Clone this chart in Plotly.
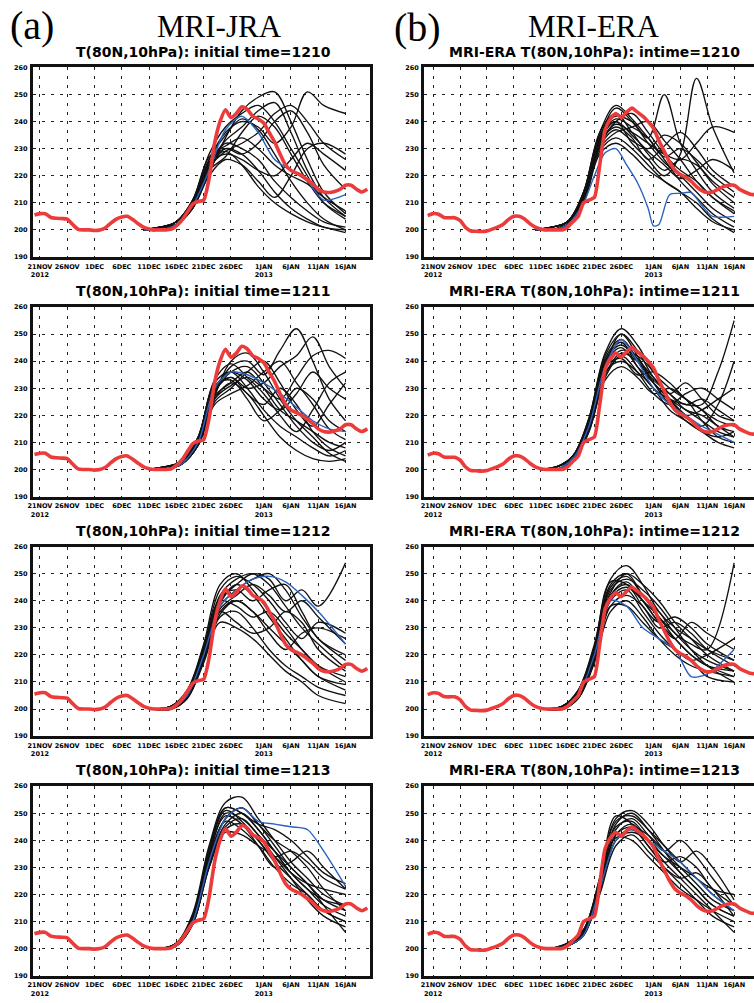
import plotly.graph_objects as go
import pandas as pd

# ---------------- data ----------------
y_ticks = [190, 200, 210, 220, 230, 240, 250, 260]
x_tick_dates = ["2012-11-21", "2012-11-26", "2012-12-01", "2012-12-06", "2012-12-11", "2012-12-16",
                "2012-12-21", "2012-12-26", "2013-01-01", "2013-01-06", "2013-01-11", "2013-01-16"]
x_tick_labels = ["21NOV<br>2012", "26NOV", "1DEC", "6DEC", "11DEC", "16DEC",
                 "21DEC", "26DEC", "1JAN<br>2013", "6JAN", "11JAN", "16JAN"]

reanalysis_dates = pd.date_range("2012-11-20", "2013-01-20", freq="D")
jra_red = [205.5, 206, 206, 204.6, 204.3, 204.2, 204, 202, 200.2, 200, 200,
           199.8, 200, 200.8, 202.5, 204, 204.8, 205, 203.8, 202.3, 201, 200.3, 200, 200, 200, 200.2,
           201.5, 203.5, 206.5, 209.5, 210.5, 211, 219, 232, 240, 244.4, 241.5, 243, 245.5, 244.5, 242, 241,
           239.5, 236, 232.5, 228, 224, 222, 221, 220, 218.5, 217, 215, 214, 213.8, 214.2, 215, 216.5,
           216.5, 215, 214, 215]
era_red = [205.3, 206, 205.8, 204.6, 204.5, 204.5, 203.5, 201, 199.6, 199.5, 199.4,
           199.6, 200.3, 201, 202, 203.8, 205, 205, 204, 202.3, 201, 200.3, 200, 200, 200, 200,
           201, 203, 205, 210, 211, 212, 224, 237, 241, 243, 241.5, 243.5, 245, 243.5, 242, 240,
           237.5, 233, 229, 225, 222, 220.5, 219.5, 218, 216, 214.5, 213.8, 214, 215, 216, 216.5, 216.5,
           215, 214, 213.2, 213]

days_1210 = ["2012-12-10", "2012-12-13", "2012-12-16", "2012-12-19", "2012-12-22", "2012-12-25", "2012-12-28",
             "2012-12-31", "2013-01-03", "2013-01-06", "2013-01-09", "2013-01-12", "2013-01-16"]
days_1211 = ["2012-12-11", "2012-12-14", "2012-12-17", "2012-12-20", "2012-12-23", "2012-12-26", "2012-12-29",
             "2013-01-01", "2013-01-04", "2013-01-07", "2013-01-10", "2013-01-13", "2013-01-16"]
days_1212 = ["2012-12-12", "2012-12-15", "2012-12-18", "2012-12-21", "2012-12-24", "2012-12-27", "2012-12-30",
             "2013-01-02", "2013-01-05", "2013-01-08", "2013-01-11", "2013-01-16"]
days_1213 = ["2012-12-13", "2012-12-16", "2012-12-19", "2012-12-22", "2012-12-25", "2012-12-28", "2012-12-31",
             "2013-01-03", "2013-01-06", "2013-01-09", "2013-01-12", "2013-01-16"]

jra_1210 = [
    [200, 200, 202, 208, 222, 230, 228, 222, 214, 208, 204, 201, 200],
    [200, 201, 203, 210, 225, 229, 224, 216, 210, 206, 203, 201, 199],
    [200, 200, 202, 209, 223, 232, 230, 226, 218, 212, 207, 203, 201],
    [200, 201, 203, 211, 228, 238, 243, 246, 240, 230, 220, 210, 204],
    [200, 200, 202, 208, 221, 234, 244, 249, 251, 240, 226, 214, 206],
    [200, 201, 203, 210, 226, 236, 240, 238, 232, 238, 251, 246, 243],
    [200, 200, 202, 209, 224, 233, 238, 244, 247, 236, 222, 212, 205],
    [200, 201, 203, 211, 227, 231, 234, 230, 224, 220, 217, 212, 207],
    [200, 200, 202, 210, 224, 228, 226, 222, 220, 226, 232, 228, 222],
    [200, 201, 202, 209, 222, 227, 236, 242, 238, 228, 218, 210, 205],
    [200, 200, 203, 210, 225, 230, 228, 232, 240, 244, 236, 224, 215],
    [200, 201, 202, 208, 220, 226, 224, 218, 212, 220, 230, 232, 228],
    [200, 200, 203, 211, 226, 235, 241, 237, 228, 218, 210, 204, 200],
    [200, 201, 202, 209, 223, 229, 232, 236, 243, 246, 240, 232, 226],
]
jra_1210_blue = [200, 200, 202, 209, 222, 237, 242, 236, 226, 222, 218, 211, 213]

era_1210 = [
    [200, 200, 203, 213, 234, 245, 240, 232, 225, 220, 214, 208, 203],
    [200, 200, 202, 211, 231, 240, 243, 236, 228, 222, 218, 212, 206],
    [200, 201, 203, 214, 236, 243, 236, 228, 222, 226, 224, 218, 212],
    [200, 200, 202, 212, 232, 238, 234, 226, 231, 236, 230, 222, 216],
    [200, 201, 203, 213, 233, 241, 238, 234, 226, 218, 212, 206, 201],
    [200, 200, 202, 210, 229, 234, 230, 224, 218, 214, 210, 204, 199],
    [200, 201, 203, 214, 235, 242, 240, 234, 250, 232, 222, 214, 208],
    [200, 200, 202, 211, 232, 239, 236, 232, 228, 226, 232, 238, 236],
    [200, 201, 203, 213, 234, 240, 232, 226, 220, 228, 256, 238, 221],
    [200, 200, 202, 212, 230, 236, 238, 240, 233, 226, 218, 212, 207],
    [200, 201, 203, 212, 233, 240, 235, 229, 224, 219, 222, 226, 222],
    [200, 200, 202, 210, 228, 232, 228, 222, 218, 214, 208, 203, 200],
    [200, 201, 203, 214, 236, 246, 241, 234, 227, 230, 226, 220, 214],
    [200, 200, 202, 212, 231, 237, 233, 230, 235, 232, 225, 217, 210],
]
era_1210_blue_days = ["2012-12-10", "2012-12-13", "2012-12-16", "2012-12-19", "2012-12-21", "2012-12-23",
                      "2012-12-25", "2012-12-27", "2012-12-29", "2012-12-31", "2013-01-01", "2013-01-02",
                      "2013-01-04", "2013-01-06", "2013-01-08", "2013-01-10", "2013-01-12", "2013-01-16"]
era_1210_blue = [200, 200, 202, 210, 220, 228.5, 230, 224, 217.5, 208, 201.5, 202, 213, 213.5, 213.8, 209, 205, 205]

jra_1211 = [
    [200, 200, 202, 209, 226, 232, 228, 220, 212, 207, 204, 203, 204],
    [200, 201, 203, 211, 230, 236, 233, 226, 222, 228, 236, 230, 226],
    [200, 200, 202, 210, 228, 238, 240, 235, 244, 252, 240, 226, 218],
    [200, 201, 203, 212, 232, 236, 230, 222, 216, 212, 208, 205, 207],
    [200, 200, 202, 209, 225, 230, 236, 240, 232, 222, 216, 224, 232],
    [200, 201, 203, 211, 229, 234, 230, 232, 238, 242, 249, 238, 230],
    [200, 200, 202, 210, 227, 240, 243, 236, 226, 218, 212, 206, 203],
    [200, 201, 203, 212, 231, 233, 226, 218, 222, 230, 226, 218, 214],
    [200, 200, 202, 209, 226, 231, 234, 230, 226, 234, 242, 244, 241],
    [200, 201, 202, 210, 228, 236, 238, 232, 224, 216, 210, 207, 210],
    [200, 200, 203, 211, 230, 234, 228, 224, 230, 224, 214, 208, 205],
    [200, 201, 202, 209, 224, 228, 231, 236, 240, 232, 224, 215, 211],
    [200, 200, 203, 212, 233, 239, 234, 228, 220, 214, 222, 232, 236],
    [200, 201, 202, 210, 227, 232, 236, 230, 222, 218, 214, 210, 208],
]
jra_1211_blue = [200, 200, 202, 210, 230, 236, 235, 232, 228, 223, 218, 215, 214]

era_1211 = [
    [200, 201, 205, 218, 240, 246, 240, 232, 226, 222, 218, 214, 212],
    [200, 200, 204, 216, 238, 250, 244, 234, 228, 224, 226, 222, 218],
    [200, 201, 205, 219, 243, 252, 246, 236, 230, 226, 222, 216, 214],
    [200, 200, 203, 214, 234, 242, 236, 228, 224, 228, 230, 226, 222],
    [200, 201, 204, 217, 239, 245, 238, 232, 226, 220, 216, 224, 240],
    [200, 200, 203, 215, 236, 240, 236, 230, 222, 218, 214, 210, 208],
    [200, 201, 205, 218, 241, 248, 241, 234, 228, 232, 226, 220, 218],
    [200, 200, 204, 216, 237, 244, 242, 236, 226, 220, 222, 226, 230],
    [200, 201, 204, 217, 240, 247, 238, 230, 226, 224, 224, 236, 255],
    [200, 200, 203, 214, 233, 238, 234, 228, 230, 226, 218, 212, 210],
    [200, 201, 205, 219, 242, 250, 242, 232, 224, 218, 214, 212, 214],
    [200, 200, 204, 215, 235, 243, 240, 233, 228, 222, 220, 216, 212],
    [200, 201, 204, 216, 238, 241, 235, 236, 232, 226, 222, 218, 216],
]
era_1211_blue = [200, 200, 204, 216, 238, 248, 240, 230, 224, 220, 216, 213, 210]

jra_1212 = [
    [200, 201, 206, 222, 242, 248, 250, 246, 238, 230, 224, 215],
    [200, 200, 205, 220, 238, 244, 248, 250, 244, 234, 226, 218],
    [200, 201, 207, 224, 246, 250, 244, 236, 228, 222, 216, 210],
    [200, 200, 204, 218, 234, 236, 230, 222, 216, 212, 208, 205],
    [200, 201, 206, 222, 240, 246, 250, 248, 240, 244, 238, 254],
    [200, 200, 205, 219, 236, 240, 236, 230, 224, 218, 212, 207],
    [200, 201, 206, 221, 241, 244, 240, 244, 246, 236, 226, 220],
    [200, 200, 204, 217, 232, 230, 226, 220, 214, 210, 205, 202],
    [200, 201, 207, 223, 244, 249, 246, 240, 232, 226, 232, 228],
    [200, 200, 205, 220, 237, 242, 246, 242, 236, 240, 234, 224],
    [200, 201, 206, 222, 240, 238, 234, 236, 230, 222, 216, 212],
    [200, 200, 204, 218, 235, 240, 236, 228, 222, 228, 230, 226],
    [200, 201, 205, 221, 239, 246, 242, 234, 226, 218, 212, 209],
    [200, 200, 206, 220, 236, 232, 228, 230, 236, 232, 222, 214],
]
jra_1212_blue = [200, 200, 205, 220, 238, 244, 248, 249, 247, 242, 236, 224]

era_1212 = [
    [200, 201, 206, 222, 246, 250, 242, 234, 228, 222, 218, 214],
    [200, 200, 205, 220, 242, 246, 240, 232, 226, 220, 216, 212],
    [200, 201, 207, 224, 248, 253, 246, 236, 230, 226, 222, 218],
    [200, 200, 204, 218, 238, 242, 238, 230, 232, 228, 222, 216],
    [200, 201, 206, 221, 244, 248, 244, 238, 230, 222, 216, 210],
    [200, 200, 205, 219, 240, 244, 236, 228, 222, 218, 220, 226],
    [200, 201, 206, 222, 245, 249, 242, 236, 228, 224, 222, 254],
    [200, 200, 204, 217, 236, 240, 234, 226, 220, 216, 214, 212],
    [200, 201, 207, 223, 247, 246, 238, 232, 234, 230, 224, 218],
    [200, 200, 205, 220, 241, 245, 240, 234, 226, 220, 216, 214],
    [200, 201, 206, 222, 243, 250, 246, 240, 232, 226, 220, 214],
    [200, 200, 204, 218, 238, 238, 232, 226, 222, 218, 212, 210],
    [200, 201, 205, 221, 242, 247, 240, 232, 226, 232, 228, 222],
]
era_1212_blue = [200, 200, 205, 220, 240, 238, 230, 226, 222, 212, 213, 222]

jra_1213 = [
    [200, 202, 212, 236, 252, 250, 244, 236, 228, 222, 216, 212],
    [200, 201, 210, 232, 248, 252, 246, 238, 230, 224, 218, 214],
    [200, 202, 213, 238, 254, 256, 248, 240, 232, 226, 220, 216],
    [200, 201, 209, 230, 244, 246, 240, 234, 236, 232, 226, 222],
    [200, 202, 211, 234, 250, 248, 242, 234, 226, 218, 212, 208],
    [200, 201, 210, 233, 247, 244, 238, 230, 224, 220, 214, 210],
    [200, 202, 212, 237, 252, 250, 246, 244, 240, 234, 228, 224],
    [200, 201, 209, 231, 245, 248, 242, 236, 230, 224, 216, 206],
    [200, 202, 211, 235, 249, 246, 238, 230, 232, 236, 230, 222],
    [200, 201, 210, 232, 246, 250, 244, 236, 228, 222, 218, 216],
    [200, 202, 212, 236, 251, 247, 240, 232, 226, 220, 214, 210],
    [200, 201, 209, 230, 243, 242, 238, 234, 228, 224, 222, 220],
    [200, 202, 211, 234, 248, 252, 246, 240, 236, 230, 222, 214],
]
jra_1213_blue = [200, 201, 210, 232, 248, 252, 247, 246, 245, 244, 236, 223]

era_1213 = [
    [200, 201, 206, 224, 246, 250, 244, 236, 228, 222, 216, 212],
    [200, 201, 205, 222, 242, 246, 240, 234, 230, 226, 220, 214],
    [200, 202, 207, 226, 248, 251, 246, 238, 232, 236, 230, 218],
    [200, 201, 205, 221, 240, 244, 238, 230, 224, 218, 212, 208],
    [200, 201, 206, 223, 244, 248, 242, 236, 240, 234, 226, 216],
    [200, 201, 205, 222, 241, 240, 234, 228, 222, 218, 214, 210],
    [200, 202, 207, 225, 247, 249, 244, 238, 232, 226, 222, 220],
    [200, 201, 205, 220, 238, 242, 236, 230, 226, 228, 222, 212],
    [200, 201, 206, 224, 245, 247, 240, 232, 226, 220, 214, 206],
    [200, 201, 205, 222, 242, 245, 242, 236, 230, 224, 218, 214],
    [200, 202, 207, 226, 249, 246, 238, 232, 234, 230, 222, 216],
    [200, 201, 206, 222, 240, 243, 240, 234, 228, 222, 216, 212],
]
era_1213_blue = [200, 201, 205, 222, 240, 244, 240, 236, 232, 226, 220, 214]

panel_titles = [
    "T(80N,10hPa): initial time=1210", "MRI-ERA T(80N,10hPa): intime=1210",
    "T(80N,10hPa): initial time=1211", "MRI-ERA T(80N,10hPa): intime=1211",
    "T(80N,10hPa): initial time=1212", "MRI-ERA T(80N,10hPa): intime=1212",
    "T(80N,10hPa): initial time=1213", "MRI-ERA T(80N,10hPa): intime=1213",
]

# ---------------- layout geometry ----------------
W, H = 754, 1003
tops = [64, 305.5, 547, 788.5]
PH = 191
col_left = [28, 422]
col_right = [367, 754]
t0 = pd.Timestamp("2012-11-21")
col_range = [
    [t0 + pd.Timedelta(days=-1.3), t0 + pd.Timedelta(days=60.4)],
    [t0 + pd.Timedelta(days=-1.66), t0 + pd.Timedelta(days=59.7)],
]

panels = [
    (days_1210, jra_1210, days_1210, jra_1210_blue, jra_red),
    (days_1210, era_1210, era_1210_blue_days, era_1210_blue, era_red),
    (days_1211, jra_1211, days_1211, jra_1211_blue, jra_red),
    (days_1211, era_1211, days_1211, era_1211_blue, era_red),
    (days_1212, jra_1212, days_1212, jra_1212_blue, jra_red),
    (days_1212, era_1212, days_1212, era_1212_blue, era_red),
    (days_1213, jra_1213, days_1213, jra_1213_blue, jra_red),
    (days_1213, era_1213, days_1213, era_1213_blue, era_red),
]

tick_font = dict(family="DejaVu Sans", size=6.5, color="black", weight="bold")
fig = go.Figure()
layout = {}
annotations = []
for k, (mdays, members, bdays, blue, red) in enumerate(panels):
    r, c = divmod(k, 2)
    xa = "x" if k == 0 else f"x{k+1}"
    ya = "y" if k == 0 else f"y{k+1}"
    for m in members:
        fig.add_trace(go.Scatter(x=pd.to_datetime(mdays), y=m, mode="lines",
                                 line=dict(color="#111111", width=1.35, shape="spline", smoothing=1.0),
                                 xaxis=xa, yaxis=ya, showlegend=False, hoverinfo="skip"))
    fig.add_trace(go.Scatter(x=pd.to_datetime(bdays), y=blue, mode="lines",
                             line=dict(color="#2a62c0", width=1.4, shape="spline", smoothing=0.8),
                             xaxis=xa, yaxis=ya, showlegend=False, hoverinfo="skip"))
    fig.add_trace(go.Scatter(x=reanalysis_dates, y=red, mode="lines",
                             line=dict(color="#ec3b3b", width=3.6, shape="spline", smoothing=0.6),
                             xaxis=xa, yaxis=ya, showlegend=False, hoverinfo="skip"))

    top = tops[r]
    xkey = "xaxis" if k == 0 else f"xaxis{k+1}"
    ykey = "yaxis" if k == 0 else f"yaxis{k+1}"
    layout[xkey] = dict(
        domain=[col_left[c] / W, col_right[c] / W], anchor=ya, type="date",
        range=col_range[c], tickvals=pd.to_datetime(x_tick_dates), ticktext=x_tick_labels,
        tickfont=tick_font, ticklabelstandoff=1, tickangle=0,
        showgrid=True, gridcolor="#222222", gridwidth=1, griddash="3px,6px",
        showline=True, linecolor="#111111", linewidth=3, mirror=True, ticks="",
        zeroline=False, fixedrange=True,
    )
    layout[ykey] = dict(
        domain=[1 - (top + PH) / H, 1 - top / H], anchor=xa,
        range=[190, 260], tickvals=y_ticks, ticktext=[str(v) for v in y_ticks],
        tickfont=tick_font, ticklabelstandoff=1, tickangle=0,
        showgrid=True, gridcolor="#222222", gridwidth=1, griddash="3px,6px",
        showline=True, linecolor="#111111", linewidth=3, mirror=(c == 0), ticks="",
        zeroline=False, fixedrange=True,
    )
    cx = [200, 593][c]
    annotations.append(dict(text=panel_titles[k], x=cx / W, y=1 - (top - 16) / H, xref="paper", yref="paper",
                            xanchor="center", yanchor="middle", showarrow=False,
                            font=dict(family="DejaVu Sans", size=14, color="black", weight="bold")))

annotations += [
    dict(text="(a)", x=3 / W, y=1 - 22 / H, xref="paper", yref="paper", xanchor="left", yanchor="middle",
         showarrow=False, font=dict(family="Liberation Serif", size=40, color="black")),
    dict(text="MRI-JRA", x=216 / W, y=1 - 23 / H, xref="paper", yref="paper", xanchor="center", yanchor="middle",
         showarrow=False, font=dict(family="Liberation Serif", size=31, color="black")),
    dict(text="(b)", x=390 / W, y=1 - 24 / H, xref="paper", yref="paper", xanchor="left", yanchor="middle",
         showarrow=False, font=dict(family="Liberation Serif", size=40, color="black")),
    dict(text="MRI-ERA", x=593 / W, y=1 - 23 / H, xref="paper", yref="paper", xanchor="center", yanchor="middle",
         showarrow=False, font=dict(family="Liberation Serif", size=31, color="black")),
]

fig.update_layout(width=W, height=H, margin=dict(l=0, r=0, t=0, b=0),
                  paper_bgcolor="white", plot_bgcolor="white", annotations=annotations, **layout)
fig.write_html("out.html", config={"displayModeBar": False},
               post_script="document.body.style.margin='0';"
                           "document.documentElement.style.overflow='hidden';")
